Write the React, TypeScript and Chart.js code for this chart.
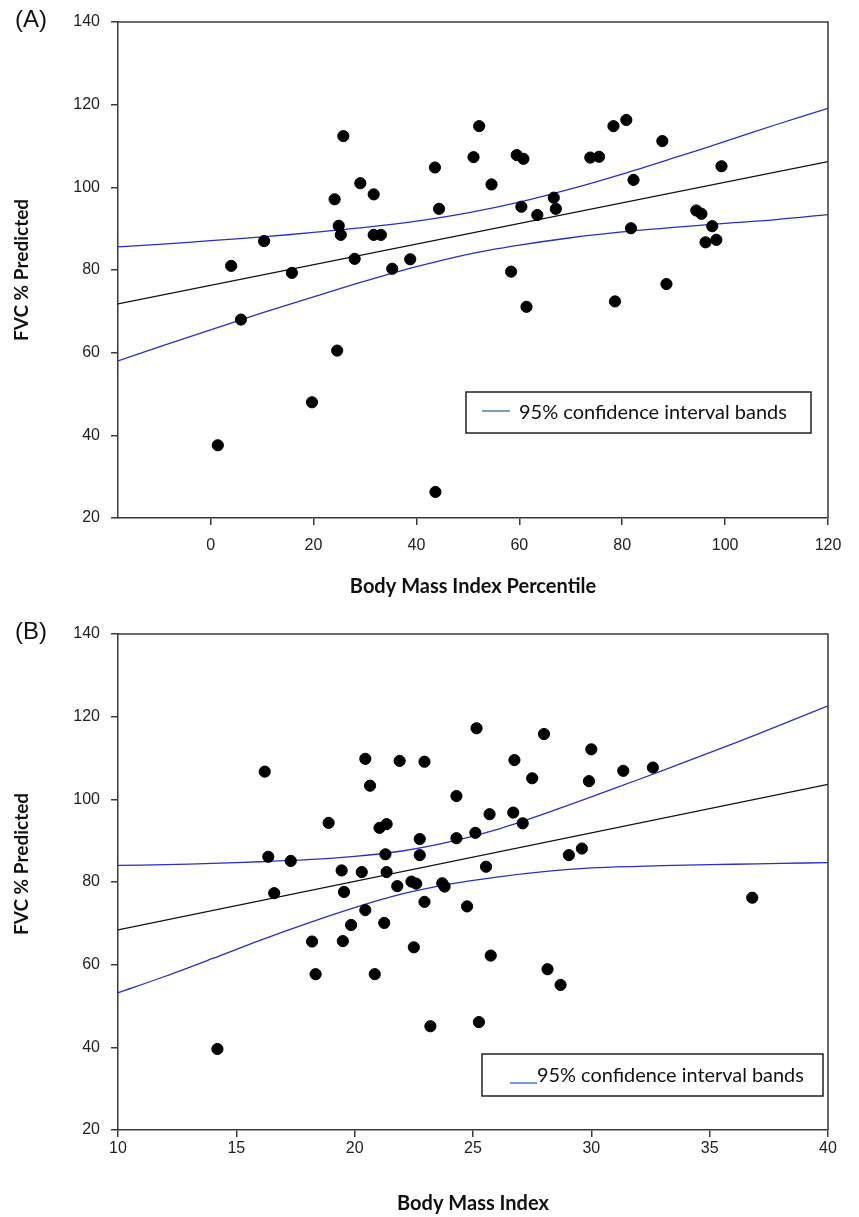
import React, { useEffect, useRef } from "react";
import { Chart, registerables } from "chart.js";

Chart.register(...registerables);

// ---------- Panel A data ----------
const A_bmiPercentile = [
  1.4, 4.0, 5.9, 10.4, 15.8, 19.7, 24.1, 24.6, 24.9, 25.3, 25.8, 28.0, 29.1, 31.7, 31.7, 33.1,
  35.3, 38.8, 43.6, 43.7, 44.4, 51.1, 52.2, 54.6, 58.4, 59.5, 60.8, 60.4, 61.4, 63.5, 66.7, 67.1,
  73.8, 75.5, 78.3, 78.6, 80.8, 81.7, 82.2, 87.8, 88.6, 94.4, 95.4, 96.2, 97.5, 98.3, 99.3,
];
const A_fvcPredicted = [
  37.6, 81.0, 68.0, 87.0, 79.3, 48.0, 97.1, 60.5, 90.7, 88.5, 112.4, 82.7, 101.0, 98.3, 88.5, 88.5,
  80.3, 82.6, 104.8, 26.3, 94.8, 107.3, 114.8, 100.7, 79.6, 107.8, 106.9, 95.3, 71.1, 93.3, 97.5, 94.8,
  107.2, 107.4, 114.8, 72.4, 116.3, 90.1, 101.8, 111.2, 76.6, 94.4, 93.6, 86.7, 90.6, 87.3, 105.1,
];
const A_fitX = [-18, 120];
const A_fitY = [71.8, 106.2];
const A_bandX = [-18, -10, 0, 10, 20, 30, 40, 50, 60, 70, 80, 90, 100, 110, 120];
const A_upper = [85.6, 86.2, 87.1, 88.0, 89.1, 90.3, 91.8, 93.8, 96.4, 99.6, 103.2, 107.1, 111.1, 115.2, 119.1];
const A_lower = [58.0, 61.4, 65.5, 69.6, 73.5, 77.3, 80.8, 83.8, 86.0, 87.8, 89.2, 90.3, 91.3, 92.2, 93.4];
const A_xTicks = [0, 20, 40, 60, 80, 100, 120];

// ---------- Panel B data ----------
const B_bmi = [
  14.2, 16.2, 16.35, 16.6, 17.3, 18.2, 18.35, 18.9, 19.45, 19.5, 19.55, 19.85, 20.3, 20.45, 20.45,
  20.65, 20.85, 21.05, 21.25, 21.3, 21.35, 21.35, 21.8, 21.9, 22.4, 22.5, 22.6, 22.75, 22.75, 22.95,
  22.95, 23.2, 23.7, 23.8, 24.3, 24.3, 24.75, 25.1, 25.15, 25.25, 25.55, 25.7, 25.75, 26.7, 26.75,
  27.1, 27.5, 28.0, 28.15, 28.7, 29.05, 29.6, 29.9, 30.0, 31.35, 32.6, 36.8,
];
const B_fvcPredicted = [
  39.6, 106.7, 86.1, 77.3, 85.1, 65.6, 57.7, 94.3, 82.8, 65.7, 77.6, 69.6, 82.4, 109.8, 73.2,
  103.3, 57.7, 93.1, 70.1, 86.7, 82.4, 94.0, 79.0, 109.3, 80.1, 64.2, 79.6, 90.4, 86.5, 75.2,
  109.1, 45.1, 79.7, 78.9, 100.8, 90.6, 74.1, 91.9, 117.2, 46.1, 83.7, 96.4, 62.2, 96.8, 109.5,
  94.2, 105.1, 115.8, 58.9, 55.1, 86.5, 88.1, 104.4, 112.1, 106.9, 107.7, 76.2,
];
const B_fitX = [10, 40];
const B_fitY = [68.4, 103.6];
const B_bandX = [10, 12, 14, 16, 18, 20, 22, 24, 26, 28, 30, 32, 34, 36, 38, 40];
const B_upper = [84.0, 84.2, 84.5, 84.9, 85.4, 86.2, 87.5, 89.7, 92.7, 96.5, 100.6, 104.8, 109.1, 113.5, 118.0, 122.6];
const B_lower = [53.2, 57.2, 61.5, 65.9, 70.0, 73.8, 77.1, 79.5, 81.2, 82.5, 83.4, 83.8, 84.1, 84.3, 84.5, 84.7];
const B_xTicks = [10, 15, 20, 25, 30, 35, 40];

const Y_TICKS = [20, 40, 60, 80, 100, 120, 140];
const LEGEND_TEXT = "95% confidence interval bands";

const AXIS = "#3a3a3a";
const BAND = "#2d2dcc";

const decorPlugin = {
  id: "decor",
  afterDraw(chart: any, _args: any, o: any) {
    const { ctx, chartArea: a } = chart;
    ctx.save();
    // top & right frame
    ctx.strokeStyle = AXIS;
    ctx.lineWidth = 1.5;
    ctx.beginPath();
    ctx.moveTo(a.left, a.top);
    ctx.lineTo(a.right, a.top);
    ctx.lineTo(a.right, a.bottom);
    ctx.stroke();
    // panel label
    ctx.fillStyle = "#111";
    ctx.font = '24px "Liberation Sans", Arial, sans-serif';
    ctx.textBaseline = "middle";
    ctx.textAlign = "left";
    ctx.fillText(o.label, 15, o.labelY);
    // y title
    ctx.save();
    ctx.translate(o.yTitleX, o.yTitleY);
    ctx.rotate(-Math.PI / 2);
    ctx.font = 'bold 19px Lato, "Open Sans", sans-serif';
    ctx.textAlign = "center";
    ctx.textBaseline = "middle";
    ctx.fillStyle = "#111";
    ctx.fillText(o.yTitle, 0, 0);
    ctx.restore();
    // legend box
    const L = o.legend;
    ctx.strokeStyle = "#222";
    ctx.lineWidth = 1.5;
    ctx.strokeRect(L.x, L.y, L.w, L.h);
    ctx.strokeStyle = "#4a7ebb";
    ctx.lineWidth = 1.5;
    ctx.beginPath();
    ctx.moveTo(L.lineX1, L.lineY);
    ctx.lineTo(L.lineX2, L.lineY);
    ctx.stroke();
    let size = 18;
    ctx.font = `${size}px Lato, "Open Sans", sans-serif`;
    const w = ctx.measureText(LEGEND_TEXT).width;
    size = (size * L.textW) / w;
    ctx.font = `${size}px Lato, "Open Sans", sans-serif`;
    ctx.fillStyle = "#111";
    ctx.textBaseline = "alphabetic";
    ctx.textAlign = "left";
    ctx.fillText(LEGEND_TEXT, L.textX, L.textY);
    ctx.restore();
  },
};

function pts(xs: number[], ys: number[]) {
  return xs.map((x, i) => ({ x, y: ys[i] }));
}

function makeConfig(p: any) {
  return {
    type: "scatter",
    data: {
      datasets: [
        {
          data: pts(p.x, p.y),
          backgroundColor: "#000",
          borderColor: "#000",
          pointRadius: 5.6,
          pointHoverRadius: 5.6,
          showLine: false,
        },
        {
          data: pts(p.fitX, p.fitY),
          showLine: true,
          borderColor: "#111",
          borderWidth: 1.2,
          pointRadius: 0,
        },
        {
          data: pts(p.bandX, p.upper),
          showLine: true,
          borderColor: BAND,
          borderWidth: 1.3,
          pointRadius: 0,
          tension: 0.3,
        },
        {
          data: pts(p.bandX, p.lower),
          showLine: true,
          borderColor: BAND,
          borderWidth: 1.3,
          pointRadius: 0,
          tension: 0.3,
        },
      ],
    },
    options: {
      responsive: false,
      animation: false,
      devicePixelRatio: 1,
      layout: { padding: { top: p.top, right: 31, left: 0, bottom: 0 } },
      plugins: {
        legend: { display: false },
        tooltip: { enabled: false },
        decor: p.decor,
      },
      scales: {
        x: {
          type: "linear",
          min: p.xMin,
          max: p.xMax,
          afterBuildTicks: (s: any) => {
            s.ticks = p.xTicks.map((v: number) => ({ value: v }));
          },
          afterFit: (s: any) => {
            s.height = p.xAxisH;
          },
          grid: { drawOnChartArea: false, tickLength: 7, color: AXIS, lineWidth: 1.5 },
          border: { color: AXIS, width: 1.5 },
          ticks: {
            font: { family: '"Liberation Sans", Arial, sans-serif', size: 16 },
            color: "#222",
            padding: p.xTickPad,
            maxRotation: 0,
            autoSkip: false,
          },
          title: {
            display: true,
            text: p.xTitle,
            font: { family: 'Lato, "Open Sans", sans-serif', size: 20, weight: "bold" },
            color: "#111",
            padding: { top: 0, bottom: p.xTitlePad },
          },
        },
        y: {
          type: "linear",
          min: 20,
          max: 140,
          afterBuildTicks: (s: any) => {
            s.ticks = Y_TICKS.map((v) => ({ value: v }));
          },
          afterFit: (s: any) => {
            s.width = 118;
          },
          grid: { drawOnChartArea: false, tickLength: 7, color: AXIS, lineWidth: 1.5 },
          border: { color: AXIS, width: 1.5 },
          ticks: {
            font: { family: '"Liberation Sans", Arial, sans-serif', size: 16 },
            color: "#222",
            padding: 11,
          },
        },
      },
    },
    plugins: [decorPlugin],
  };
}

function Panel({ params, height }: { params: any; height: number }) {
  const ref = useRef<HTMLCanvasElement | null>(null);
  useEffect(() => {
    if (!ref.current) return;
    const chart = new Chart(ref.current, makeConfig(params) as any);
    return () => chart.destroy();
  }, []);
  return <canvas ref={ref} width={859} height={height} style={{ display: "block", width: 859, height }} />;
}

const panelA = {
  x: A_bmiPercentile,
  y: A_fvcPredicted,
  fitX: A_fitX,
  fitY: A_fitY,
  bandX: A_bandX,
  upper: A_upper,
  lower: A_lower,
  xTicks: A_xTicks,
  xMin: -18,
  xMax: 120,
  top: 22,
  xAxisH: 90,
  xTickPad: 11,
  xTitlePad: 9,
  xTitle: "Body Mass Index Percentile",
  decor: {
    label: "(A)",
    labelY: 20,
    yTitle: "FVC % Predicted",
    yTitleX: 22,
    yTitleY: 270,
    legend: { x: 466, y: 392, w: 345, h: 41, lineX1: 482, lineX2: 510, lineY: 411, textX: 519, textY: 419, textW: 268 },
  },
};

const panelB = {
  x: B_bmi,
  y: B_fvcPredicted,
  fitX: B_fitX,
  fitY: B_fitY,
  bandX: B_bandX,
  upper: B_upper,
  lower: B_lower,
  xTicks: B_xTicks,
  xMin: 10,
  xMax: 40,
  top: 26,
  xAxisH: 87,
  xTickPad: 2,
  xTitlePad: 1,
  xTitle: "Body Mass Index",
  decor: {
    label: "(B)",
    labelY: 24,
    yTitle: "FVC % Predicted",
    yTitleX: 22,
    yTitleY: 256,
    legend: { x: 482, y: 446, w: 341, h: 42, lineX1: 510, lineX2: 537, lineY: 475, textX: 537, textY: 474, textW: 267 },
  },
};

export default function App() {
  return (
    <div style={{ position: "absolute", left: 0, top: 0, width: 859, height: 1217, background: "#fff" }}>
      <Panel params={panelA} height={608} />
      <Panel params={panelB} height={609} />
    </div>
  );
}
